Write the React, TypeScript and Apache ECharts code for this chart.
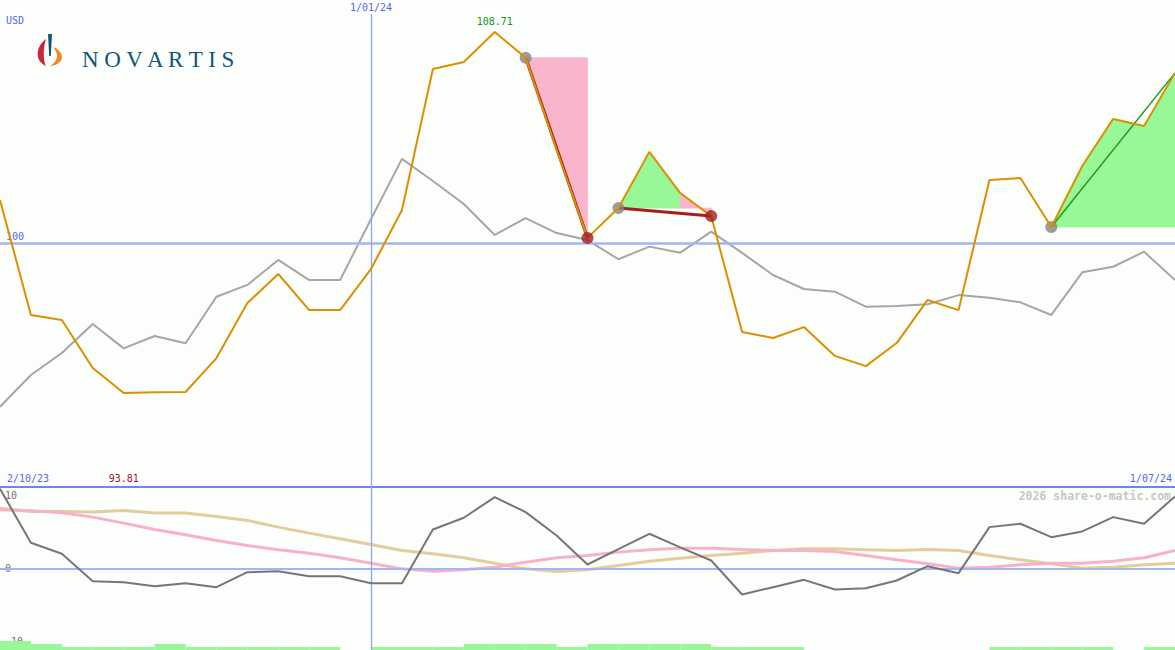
import { useEffect, useRef } from "react";
import * as echarts from "echarts";

// weekly closes, 2/10/23 .. 1/07/24
const DATES = [
  "2/10/23", "9/10/23", "16/10/23", "23/10/23", "30/10/23", "6/11/23", "13/11/23",
  "20/11/23", "27/11/23", "4/12/23", "11/12/23", "18/12/23", "1/01/24", "8/01/24",
  "15/01/24", "22/01/24", "29/01/24", "5/02/24", "12/02/24", "19/02/24", "26/02/24",
  "4/03/24", "11/03/24", "18/03/24", "25/03/24", "1/04/24", "8/04/24", "15/04/24",
  "22/04/24", "29/04/24", "6/05/24", "13/05/24", "20/05/24", "27/05/24", "3/06/24",
  "10/06/24", "17/06/24", "24/06/24", "1/07/24",
];

const PRICE = [
  101.77, 97.03, 96.82, 94.84, 93.81, 93.84, 93.85, 95.25, 97.52, 98.72, 97.23, 97.23,
  98.93, 101.36, 107.18, 107.47, 108.71, 107.64, 103.84, 100.21, 101.44, 103.76, 102.06,
  101.11, 96.33, 96.08, 96.53, 95.34, 94.92, 95.87, 97.65, 97.23, 102.6, 102.68, 100.66,
  103.18, 105.12, 104.83, 107.02,
];

// comparison index, rebased
const INDEX = [
  93.24, 94.55, 95.46, 96.66, 95.65, 96.16, 95.86, 97.78, 98.27, 99.3, 98.47, 98.47,
  100.99, 103.47, 102.56, 101.61, 100.33, 101.03, 100.41, 100.12, 99.33, 99.85, 99.6,
  100.47, 99.59, 98.68, 98.1, 97.99, 97.37, 97.4, 97.47, 97.85, 97.74, 97.55, 97.03,
  98.79, 99.02, 99.64, 98.47,
];

const MOMENTUM = [
  10.9, 3.52, 2.01, -1.74, -1.87, -2.42, -2.01, -2.56, -0.5, -0.37, -1.05, -1.05, -2.01,
  -2.01, 5.34, 6.94, 9.77, 7.71, 4.52, 0.55, 2.65, 4.75, 2.9, 1.1, -3.56, -2.56, -1.55,
  -2.88, -2.7, -1.64, 0.32, -0.64, 5.66, 6.12, 4.29, 5.07, 7.03, 6.12, 9.86,
];

const FAST_AVG = [
  8.04, 7.9, 7.63, 7.03, 6.21, 5.34, 4.61, 3.84, 3.15, 2.56, 2.1, 1.46, 0.73, -0.05,
  -0.37, -0.18, 0.18, 0.87, 1.46, 1.78, 2.24, 2.56, 2.78, 2.78, 2.6, 2.47, 2.47, 2.33,
  1.78, 1.19, 0.64, 0.05, 0.18, 0.5, 0.73, 0.73, 1.0, 1.46, 2.47,
];

const SLOW_AVG = [
  8.26, 7.81, 7.81, 7.72, 7.95, 7.58, 7.58, 7.12, 6.58, 5.66, 4.84, 4.06, 3.29, 2.47,
  2.01, 1.46, 0.73, -0.05, -0.41, -0.18, 0.41, 1.0, 1.41, 1.78, 2.1, 2.47, 2.69, 2.69,
  2.56, 2.47, 2.6, 2.47, 1.78, 1.19, 0.64, 0.05, 0.18, 0.5, 0.73,
];

// one bar per week interval (levels 0..3)
const VOLUME = [
  3, 2, 1, 1, 1, 2, 1, 1, 1, 1, 1, 0, 1, 1, 1, 2, 2, 2, 1, 2, 2, 2, 2, 1, 1, 1, 0, 0, 0,
  0, 0, 0, 1, 1, 1, 1, 0, 1,
];

// entry / exit indices, open trade has no exit dot
const TRADES = [
  { from: 17, to: 19, open: false },
  { from: 20, to: 23, open: false },
  { from: 34, to: 38, open: true },
];

const MARK_DATE = "1/01/24";
const CURRENCY = "USD";
const WATERMARK = "2026 share-o-matic.com";

const MONO = '"DejaVu Sans Mono", monospace';
const BLUE = "#5566f0";
const REF_LINE = "#a4b4f4";
const ORANGE = "#da9000";
const PINK_FILL = "#f9b5cb";
const GREEN_FILL = "#98f898";

echarts.graphic.registerShape(
  "nvRed",
  echarts.graphic.extendPath("M10 6 C1 12 -3 27 10 33 C7 28 7 15 10 6 Z", {})
);
echarts.graphic.registerShape(
  "nvOrange",
  echarts.graphic.extendPath("M17 14 C27 17 32 31 14 33 C21 29 24 22 17 14 Z", {})
);
echarts.graphic.registerShape(
  "nvBlue",
  echarts.graphic.extendPath("M12 1 L16 1 L14.8 23 L13.2 23 Z", {})
);

export default function App() {
  const chartRef = useRef<HTMLDivElement>(null);

  useEffect(() => {
    if (!chartRef.current) return;
    const chart = echarts.init(chartRef.current, null, { renderer: "svg" });

    const maxVal = Math.max(...PRICE);
    const minVal = Math.min(...PRICE);
    const maxIdx = PRICE.indexOf(maxVal);
    const minIdx = PRICE.indexOf(minVal);
    const yMin = 89.93;
    const yMax = 109.45;

    // fill segments between entry level and price, per week
    const fills: number[][] = [];
    TRADES.forEach((t) => {
      const entry = PRICE[t.from];
      for (let k = t.from; k < t.to; k++) {
        fills.push([k, entry, PRICE[k], PRICE[k + 1], PRICE[k + 1] >= entry ? 1 : 0]);
      }
    });

    const tradeLines = TRADES.map((t) => ({
      type: "line",
      xAxisIndex: 0,
      yAxisIndex: 0,
      data: [
        [t.from, PRICE[t.from]],
        [t.to, PRICE[t.to]],
      ],
      symbol: "none",
      silent: true,
      z: 4,
      lineStyle: PRICE[t.to] >= PRICE[t.from]
        ? { color: "#1f9a1f", width: 1.5 }
        : { color: "#a51d1d", width: 3 },
    }));

    chart.setOption({
      animation: false,
      backgroundColor: "#fcfefc",
      grid: [
        { left: 0, right: 0, top: 14, height: 473 },
        { left: 0, right: 0, top: 487, height: 163 },
      ],
      xAxis: [
        {
          gridIndex: 0,
          type: "category",
          data: DATES,
          boundaryGap: false,
          axisLine: { show: true, onZero: false, lineStyle: { color: "#7282f0", width: 2 } },
          axisTick: { show: false },
          splitLine: { show: false },
          axisLabel: {
            inside: true,
            interval: (i: number) => i === 0 || i === DATES.length - 1,
            alignMinLabel: "left",
            alignMaxLabel: "right",
            color: BLUE,
            fontFamily: MONO,
            fontSize: 10,
            margin: 4,
            padding: [0, 3, 0, 7],
          },
        },
        { gridIndex: 1, type: "category", data: DATES, boundaryGap: false, show: false },
        { gridIndex: 1, type: "category", data: DATES.slice(1), boundaryGap: true, show: false },
      ],
      yAxis: [
        { gridIndex: 0, type: "value", min: yMin, max: yMax, show: false },
        {
          gridIndex: 1,
          type: "value",
          min: -11.15,
          max: 11.15,
          axisLine: { show: false },
          axisTick: { show: false },
          splitLine: { show: false },
          axisLabel: {
            inside: true,
            customValues: [-10, 0, 10],
            color: "#707070",
            fontFamily: MONO,
            fontSize: 10,
            margin: 5,
          },
        },
        { gridIndex: 1, type: "value", min: 0, max: 54.33, show: false },
      ],
      graphic: [
        {
          type: "text",
          x: 6,
          y: 15,
          style: { text: CURRENCY, fill: BLUE, font: `10px ${MONO}` },
        },
        {
          type: "text",
          right: 4,
          top: 490,
          style: { text: WATERMARK, fill: "#c6c6c6", font: `bold 11.5px ${MONO}` },
        },
        { type: "nvRed", x: 36, y: 33, style: { fill: "#c8283a" } },
        { type: "nvOrange", x: 36, y: 33, style: { fill: "#ef8a2a" } },
        { type: "nvBlue", x: 36, y: 33, style: { fill: "#0f5577" } },
        {
          type: "text",
          x: 82,
          y: 59,
          style: {
            text: "N O V A R T I S",
            fill: "#0f5577",
            font: '23px "Liberation Serif", serif',
            verticalAlign: "middle",
          },
        },
      ],
      series: [
        {
          type: "bar",
          xAxisIndex: 2,
          yAxisIndex: 2,
          data: VOLUME,
          barWidth: "100%",
          barGap: "0%",
          silent: true,
          itemStyle: { color: GREEN_FILL },
          z: 1,
        },
        {
          type: "custom",
          xAxisIndex: 0,
          yAxisIndex: 0,
          data: fills,
          encode: { x: 0, y: 1 },
          silent: true,
          z: 2,
          renderItem: (_params: any, api: any) => {
            const k = api.value(0);
            const entry = api.value(1);
            const p1 = api.coord([k, entry]);
            const p2 = api.coord([k, api.value(2)]);
            const p3 = api.coord([k + 1, api.value(3)]);
            const p4 = api.coord([k + 1, entry]);
            const fill = api.value(4) ? GREEN_FILL : PINK_FILL;
            return {
              type: "polygon",
              shape: { points: [p1, p2, p3, p4] },
              style: { fill, stroke: fill, lineWidth: 0.8 },
            };
          },
        },
        {
          type: "line",
          xAxisIndex: 0,
          yAxisIndex: 0,
          data: INDEX,
          symbol: "none",
          silent: true,
          z: 3,
          lineStyle: { color: "#a6a6a6", width: 2 },
          markLine: {
            silent: true,
            symbol: ["none", "none"],
            data: [
              {
                yAxis: 100,
                lineStyle: { color: REF_LINE, width: 2.5, type: "solid" },
                label: {
                  show: true,
                  formatter: "100",
                  position: "insideStartTop",
                  distance: [6, 1],
                  color: BLUE,
                  fontFamily: MONO,
                  fontSize: 10,
                },
              },
              {
                xAxis: MARK_DATE,
                lineStyle: { color: "#93a4f6", width: 1.3, type: "solid" },
                label: {
                  show: true,
                  formatter: MARK_DATE,
                  position: "end",
                  distance: 2,
                  color: BLUE,
                  fontFamily: MONO,
                  fontSize: 10,
                },
              },
            ],
          },
        },
        ...tradeLines,
        {
          type: "line",
          xAxisIndex: 0,
          yAxisIndex: 0,
          data: PRICE,
          symbol: "none",
          silent: true,
          z: 6,
          lineStyle: { color: ORANGE, width: 2 },
          markPoint: {
            silent: true,
            symbol: "circle",
            symbolSize: 0,
            data: [
              {
                coord: [maxIdx, maxVal],
                value: maxVal,
                label: {
                  show: true,
                  position: "top",
                  distance: 5,
                  formatter: maxVal.toFixed(2),
                  color: "#139313",
                  fontFamily: MONO,
                  fontSize: 10,
                },
              },
              {
                coord: [minIdx, yMin],
                value: minVal,
                label: {
                  show: true,
                  position: "top",
                  distance: 4,
                  formatter: minVal.toFixed(2),
                  color: "#a01818",
                  fontFamily: MONO,
                  fontSize: 10,
                },
              },
            ],
          },
        },
        {
          type: "scatter",
          xAxisIndex: 0,
          yAxisIndex: 0,
          data: TRADES.map((t) => [t.from, PRICE[t.from]]),
          symbolSize: 12,
          silent: true,
          z: 5,
          itemStyle: { color: "#858585" },
        },
        {
          type: "scatter",
          xAxisIndex: 0,
          yAxisIndex: 0,
          data: TRADES.filter((t) => !t.open).map((t) => [t.to, PRICE[t.to]]),
          symbolSize: 12,
          silent: true,
          z: 7,
          itemStyle: { color: "#a51d1d" },
        },
        {
          type: "line",
          xAxisIndex: 1,
          yAxisIndex: 1,
          data: SLOW_AVG,
          symbol: "none",
          silent: true,
          z: 3,
          lineStyle: { color: "#e3cd9e", width: 3 },
          markLine: {
            silent: true,
            symbol: ["none", "none"],
            label: { show: false },
            data: [
              { yAxis: 0, lineStyle: { color: REF_LINE, width: 2, type: "solid" } },
              { xAxis: MARK_DATE, lineStyle: { color: "#93a4f6", width: 1.3, type: "solid" } },
            ],
          },
        },
        {
          type: "line",
          xAxisIndex: 1,
          yAxisIndex: 1,
          data: FAST_AVG,
          symbol: "none",
          silent: true,
          z: 4,
          lineStyle: { color: "#f8b2c8", width: 3 },
        },
        {
          type: "line",
          xAxisIndex: 1,
          yAxisIndex: 1,
          data: MOMENTUM,
          symbol: "none",
          silent: true,
          z: 5,
          lineStyle: { color: "#767676", width: 2 },
        },
      ],
    });

    return () => {
      chart.dispose();
    };
  }, []);

  return (
    <div
      ref={chartRef}
      style={{ position: "fixed", left: 0, top: 0, width: 1175, height: 650 }}
    />
  );
}
